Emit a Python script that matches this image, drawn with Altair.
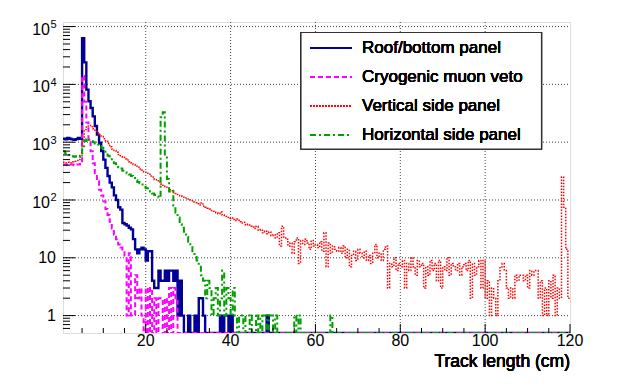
import altair as alt
import pandas as pd

# ---------------- data (0.5 cm bins, first bin starts at 0.5 cm) ----------------
X0, BW, XMAX = 0.5, 0.5, 120.0
YMIN, YMAX = 0.5, 1.2e5

roof_bottom = [
    1150, 1120, 1180, 1150, 1120, 1100, 1130, 1180, 1150,
    63000, 24000, 8100, 5100, 3900, 2800, 1900, 1350, 980, 700,
    500, 360, 260, 200, 165, 120, 100, 75, 68, 40,
    38, 36, 33, 31, 21, 14, 12, 14, 15, 14,
    9, 13, 13, 4, 3, 3, 6, 4, 4, 6,
    4, 6, 6, 4, 6, 1, 4, 1, 0, 0,
    1, 0, 0, 1, 0, 2, 2, 1, 0, 0,
    0, 0, 0, 0, 0, 1, 0, 1, 1, 0,
    1, 0, 0, 0, 0, 0, 0, 0, 0, 0,
    0, 0, 0, 0, 0, 0, 0, 1, 0, 0,
]

cryogenic_veto = [
    410, 410, 400, 410, 410, 400, 410, 410, 420,
    14000, 5000, 2200, 1100, 700, 430, 290, 210, 150, 120,
    95, 70, 55, 42, 32, 25, 21, 17, 15, 13,
    11, 1, 12, 1, 1, 5, 2, 3, 1, 0,
    3, 0, 3, 0, 2, 0, 2, 2, 0, 2,
    0, 3, 0, 3, 2, 0,
]

vertical_side = [
    450, 440, 450, 440, 460, 470, 480, 500, 560,
    1100, 1650, 1900, 1950, 1850, 1700, 1550, 1450, 1350, 1250,
    1150, 1050, 950, 830, 760, 720, 670, 610, 580, 550,
    510, 490, 460, 440, 410, 385, 370, 345, 330, 305,
    290, 280, 260, 250, 225, 215, 205, 190, 180, 172,
    160, 150, 145, 135, 130, 124, 118, 112, 108, 104,
    100, 97, 92, 90, 86, 82, 89, 78, 75, 72,
    70, 66, 64, 60, 58, 62, 55, 52, 50, 48,
    49, 46, 44, 47, 42, 40, 41, 37, 38, 35,
    34, 32, 35, 30, 31, 27, 29, 26, 28, 24,
    25, 22, 27, 16, 35, 23, 21, 16, 18, 12,
    19, 22, 8, 20, 17, 21, 18, 14, 20, 16,
    17, 15, 19, 13, 27, 7, 18, 12, 16, 14,
    13, 15, 12, 16, 10, 14, 7, 11, 13, 9,
    14, 12, 10, 13, 9, 11, 8, 12, 17, 10,
    12, 9, 14, 16, 3, 8, 7, 10, 6, 8,
    7, 9, 3, 8, 6, 10, 7, 5, 9, 7,
    8, 3, 7, 5, 9, 6, 8, 4, 9, 3,
    7, 6, 10, 5, 8, 7, 6, 8, 5, 7,
    8, 6, 9, 2, 8, 5, 7, 9, 3, 9,
    2, 4, 1, 3, 2, 1, 4, 7, 8, 6,
    3, 2, 3, 2, 5, 4, 5, 5, 4, 5,
    3, 6, 5, 6, 6, 2, 4, 1, 3, 1,
    4, 2, 5, 1, 3, 2, 250, 75, 14, 2,
]

horizontal_side = [
    700, 640, 600, 580, 570, 560, 570, 560, 580,
    850, 1050, 1150, 1100, 1050, 1000, 950, 900, 860, 800,
    720, 650, 580, 540, 480, 430, 400, 370, 350, 320,
    300, 290, 275, 260, 240, 220, 205, 195, 185, 170,
    160, 150, 140, 130, 122, 115, 110, 2700, 3300, 570,
    230, 140, 145, 80, 60, 50, 38, 33, 27, 23,
    19, 16, 13, 11, 9, 7, 5, 4, 2, 4,
    3, 1, 2, 3, 1, 2, 6, 1, 3, 2,
    1, 3, 1, 0, 1, 1, 0, 1, 1, 0,
    1, 1, 0, 1, 0, 1, 1, 0, 1, 1,
    0, 1, 0, 0, 0, 0, 0, 0, 0, 0,
    1, 0, 1, 0, 0, 0, 0, 0, 0, 0,
    0, 0, 0, 0, 0, 0, 0, 1, 0, 0,
]

series_names = ["Roof/bottom panel", "Cryogenic muon veto",
                "Vertical side panel", "Horizontal side panel"]
series_values = [roof_bottom, cryogenic_veto, vertical_side, horizontal_side]

x_tick_labels = [20, 40, 60, 80, 100, 120]
y_decades = [1, 10, 100, 1000, 10000, 100000]
y_plain_labels = ["1", "10"]
y_exp_labels = ["2", "3", "4", "5"]

# ---------------- styling ----------------
W, H = 507, 311
FONT = "Liberation Sans"
colors = ["#000099", "#ff00ff", "#ff0000", "#00a000"]
dashes = [None, [5, 3], [1.5, 1.5], [6, 3, 2, 3]]
widths = [2.4, 2.0, 1.5, 2.0]
GRID = dict(color="#444", strokeWidth=1, strokeDash=[1, 2])

xscale = alt.Scale(domain=[X0, XMAX], nice=False, zero=False)
yscale = alt.Scale(type="log", domain=[YMIN, YMAX], nice=False)


def X(field):
    return alt.X(field, scale=xscale, axis=None)


def Y(field):
    return alt.Y(field, scale=yscale, axis=None)


def step_frame(vals):
    xs, ys = [], []
    for i, v in enumerate(vals):
        xs.append(X0 + BW * i)
        ys.append(v if v > 0 else YMIN)
    end = X0 + BW * len(vals)
    if end >= XMAX - 1e-9:
        xs.append(XMAX)
        ys.append(ys[-1])
    else:
        xs.append(end)
        ys.append(YMIN)
        xs.append(XMAX)
        ys.append(YMIN)
    return pd.DataFrame({"x": xs, "y": ys, "order": range(len(xs))})


layers = []

# grid (dotted, at labelled ticks)
x_grid = pd.DataFrame({"t": x_tick_labels[:-1]})
y_grid = pd.DataFrame({"t": y_decades})
layers.append(alt.Chart(x_grid).mark_rule(**GRID).encode(
    x=X("t:Q"), y=alt.value(0), y2=alt.value(H)))
layers.append(alt.Chart(y_grid).mark_rule(**GRID).encode(
    y=Y("t:Q"), x=alt.value(0), x2=alt.value(W)))

# histograms
for k, (name, vals) in enumerate(zip(series_names, series_values)):
    mk = dict(interpolate="step-after", clip=True, color=colors[k],
              strokeWidth=widths[k], strokeCap="butt", strokeJoin="miter")
    if dashes[k] is not None:
        mk["strokeDash"] = dashes[k]
    layers.append(alt.Chart(step_frame(vals)).mark_line(**mk).encode(
        x=X("x:Q"), y=Y("y:Q"), order="order:Q"))

# inner ticks (ROOT style)
x_major = pd.DataFrame({"t": x_tick_labels})
x_minor = pd.DataFrame({"t": [v for v in range(5, 120, 5) if v % 20 != 0]})
y_major = pd.DataFrame({"t": y_decades})
y_minor_vals = []
for d in [0.1, 1, 10, 100, 1000, 10000]:
    for m in range(2, 10):
        v = m * d
        if YMIN < v < YMAX:
            y_minor_vals.append(v)
y_minor = pd.DataFrame({"t": y_minor_vals})

layers.append(alt.Chart(x_major).mark_rule(color="black", strokeWidth=1).encode(
    x=X("t:Q"), y=alt.value(H), y2=alt.value(H - 9)))
layers.append(alt.Chart(x_minor).mark_rule(color="black", strokeWidth=1).encode(
    x=X("t:Q"), y=alt.value(H), y2=alt.value(H - 5)))
layers.append(alt.Chart(y_major).mark_rule(color="black", strokeWidth=1).encode(
    y=Y("t:Q"), x=alt.value(0), x2=alt.value(12)))
layers.append(alt.Chart(y_minor).mark_rule(color="black", strokeWidth=1).encode(
    y=Y("t:Q"), x=alt.value(0), x2=alt.value(7)))

# x labels
x_lab = pd.DataFrame({"t": x_tick_labels, "lab": [str(v) for v in x_tick_labels]})
layers.append(alt.Chart(x_lab).mark_text(
    align="center", baseline="middle", font=FONT, fontSize=16, color="black").encode(
    x=X("t:Q"), y=alt.value(H + 8), text="lab:N"))

# y labels: 1, 10, 10^2 ... 10^5
plain = pd.DataFrame({"t": y_decades[:2], "lab": y_plain_labels})
expo = pd.DataFrame({"t": y_decades[2:], "base": ["10"] * 4, "exp": y_exp_labels})
layers.append(alt.Chart(plain).mark_text(
    align="right", baseline="middle", font=FONT, fontSize=16, color="black").encode(
    y=Y("t:Q"), x=alt.value(-7), text="lab:N"))
layers.append(alt.Chart(expo).mark_text(
    align="right", baseline="middle", font=FONT, fontSize=16, color="black", dy=3).encode(
    y=Y("t:Q"), x=alt.value(-13), text="base:N"))
layers.append(alt.Chart(expo).mark_text(
    align="left", baseline="middle", font=FONT, fontSize=11, color="black", dy=-1.5).encode(
    y=Y("t:Q"), x=alt.value(-12.5), text="exp:N"))

# x title
layers.append(alt.Chart(x_major).mark_text(
    align="right", baseline="middle", font=FONT, fontSize=17.5, color="black",
    text="Track length (cm)").encode(x=alt.value(W), y=alt.value(H + 29)))

# legend
LX0, LX1, LY0, LY1 = 238, 478.5, 10.5, 127
layers.append(alt.Chart(x_major).mark_rect(
    fill="white", stroke="#333", strokeWidth=1.2).encode(
    x=alt.value(LX0), x2=alt.value(LX1), y=alt.value(LY0), y2=alt.value(LY1)))
row_y = [26, 55, 84, 113]
for k, name in enumerate(series_names):
    rk = dict(color=colors[k], strokeWidth=widths[k] * 0.85, strokeCap="butt")
    if dashes[k] is not None:
        rk["strokeDash"] = dashes[k]
    layers.append(alt.Chart(x_major).mark_rule(**rk).encode(
        x=alt.value(247), x2=alt.value(289), y=alt.value(row_y[k])))
    layers.append(alt.Chart(x_major).mark_text(
        align="left", baseline="middle", font=FONT, fontSize=17, color="black",
        text=name).encode(x=alt.value(299), y=alt.value(row_y[k])))

chart = alt.layer(*layers).properties(
    width=W, height=H,
    padding={"left": 55, "top": 14, "right": 50, "bottom": 45},
    autosize=alt.AutoSizeParams(type="none"),
).configure_view(stroke="black", strokeWidth=1).configure(background="white")

chart.save("out.html", embed_options={"renderer": "svg", "actions": False})
